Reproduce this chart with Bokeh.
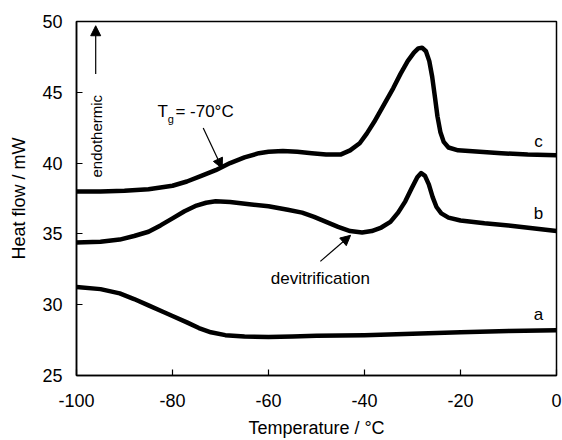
from bokeh.plotting import figure
from bokeh.models import Label, Arrow, NormalHead, FixedTicker
from bokeh.embed import file_html
from bokeh.resources import INLINE

# Curve c
c_x = [-100, -95, -90, -85, -80, -77, -74, -71, -68, -65, -62, -60, -57, -54, -51, -48, -45, -43, -41,
       -39.5, -38, -36, -34, -32.5, -31, -29.7, -28.8, -28, -27.2, -26.5, -25.9, -25.3, -24.8, -24.2,
       -23.5, -22.5, -20.5, -16, -11.5, -6, 0]
c_y = [38.0, 38.0, 38.05, 38.15, 38.4, 38.7, 39.1, 39.5, 40.0, 40.4, 40.7, 40.8, 40.85, 40.8, 40.7,
       40.6, 40.6, 40.9, 41.4, 42.1, 42.9, 44.1, 45.3, 46.3, 47.2, 47.8, 48.1, 48.15, 47.9, 47.2, 46.1,
       44.6, 43.3, 42.2, 41.5, 41.1, 40.9, 40.8, 40.7, 40.6, 40.55]

# Curve b
b_x = [-100, -95, -91, -88, -85, -82.5, -80, -77.5, -75, -73, -71, -68, -64, -60, -56, -53, -50.5,
       -48, -45.5, -43, -40.5, -38.5, -36.5, -34.6, -33, -31.5, -30.2, -29, -28.2, -27.4, -26.6,
       -25.8, -25, -24, -22.5, -20, -15, -10, -5, 0]
b_y = [34.4, 34.45, 34.6, 34.85, 35.15, 35.6, 36.1, 36.6, 37.0, 37.2, 37.3, 37.25, 37.1, 36.95,
       36.7, 36.5, 36.2, 35.85, 35.5, 35.2, 35.1, 35.2, 35.45, 35.85, 36.5, 37.3, 38.2, 39.0, 39.3,
       39.1, 38.5, 37.6, 36.9, 36.45, 36.15, 35.95, 35.75, 35.6, 35.4, 35.2]

# Curve a
a_x = [-100, -95, -91, -88, -85, -82, -80, -77, -74.5, -72, -69, -65, -60, -55, -50, -40, -30, -20, -10, 0]
a_y = [31.25, 31.1, 30.8, 30.4, 29.95, 29.5, 29.2, 28.75, 28.35, 28.05, 27.85, 27.75, 27.72, 27.75,
       27.8, 27.85, 27.95, 28.05, 28.15, 28.2]

x_ticks = [-100, -80, -60, -40, -20, 0]
x_tick_labels = ["-100", "-80", "-60", "-40", "-20", "0"]
y_ticks = [25, 30, 35, 40, 45, 50]

FONT = "Liberation Sans"

p = figure(width=562, height=440, x_range=(-100, 0), y_range=(25, 50),
           output_backend="svg", toolbar_location=None,
           min_border_left=76, min_border_top=21, min_border_right=6, min_border_bottom=64)

p.xgrid.visible = False
p.ygrid.visible = False
p.outline_line_color = "black"
p.outline_line_width = 1.5
p.background_fill_color = "white"
p.border_fill_color = "white"

for ax in (p.xaxis[0], p.yaxis[0]):
    ax.axis_line_color = "black"
    ax.axis_line_width = 1.5
    ax.major_tick_in = 6
    ax.major_tick_out = 0
    ax.major_tick_line_width = 1.2
    ax.minor_tick_line_color = None
    ax.major_label_text_font = FONT
    ax.major_label_text_font_size = "18px"
    ax.major_label_text_color = "black"
    ax.axis_label_text_font = FONT
    ax.axis_label_text_font_size = "18px"
    ax.axis_label_text_font_style = "normal"
    ax.axis_label_text_color = "black"

p.xaxis.ticker = FixedTicker(ticks=x_ticks)
p.xaxis.major_label_overrides = {t: s for t, s in zip(x_ticks, x_tick_labels)}
p.yaxis.ticker = FixedTicker(ticks=y_ticks)
p.xaxis.axis_label = "Temperature / °C"
p.yaxis.axis_label = "Heat flow / mW"
p.xaxis.major_label_standoff = 18
p.yaxis.major_label_standoff = 14
p.xaxis.axis_label_standoff = 8
p.yaxis.axis_label_standoff = 10

for xs, ys in ((a_x, a_y), (b_x, b_y), (c_x, c_y)):
    p.line(xs, ys, line_color="black", line_width=4.5, line_join="round", line_cap="round")

# curve labels
for txt, yy in (("c", 41.5), ("b", 36.46), ("a", 29.3)):
    p.add_layout(Label(x=-3.75, y=yy, text=txt, text_font=FONT, text_font_size="17px",
                       text_align="center", text_baseline="middle", text_color="black"))

# Tg annotation
p.add_layout(Label(x=-83.1, y=43.66, text="T", text_font=FONT, text_font_size="17px",
                   text_align="left", text_baseline="middle", text_color="black"))
p.add_layout(Label(x=-81.0, y=43.1, text="g", text_font=FONT, text_font_size="11px",
                   text_align="left", text_baseline="middle", text_color="black"))
p.add_layout(Label(x=-79.4, y=43.66, text="= -70°C", text_font=FONT, text_font_size="17px",
                   text_align="left", text_baseline="middle", text_color="black"))
p.add_layout(Arrow(x_start=-73.6, y_start=42.48, x_end=-69.65, y_end=39.63,
                   line_width=1.2, line_color="black",
                   end=NormalHead(size=10, fill_color="black", line_color="black")))

# devitrification annotation
p.add_layout(Label(x=-49.2, y=31.83, text="devitrification", text_font=FONT, text_font_size="17px",
                   text_align="center", text_baseline="middle", text_color="black"))
p.add_layout(Arrow(x_start=-49.2, y_start=33.06, x_end=-42.9, y_end=34.9,
                   line_width=1.2, line_color="black",
                   end=NormalHead(size=10, fill_color="black", line_color="black")))

# endothermic annotation
p.add_layout(Label(x=-95.8, y=41.9, text="endothermic", text_font=FONT, text_font_size="15px",
                   text_align="center", text_baseline="middle", angle=1.5708, text_color="black"))
p.add_layout(Arrow(x_start=-96.0, y_start=46.3, x_end=-96.0, y_end=49.7,
                   line_width=1.2, line_color="black",
                   end=NormalHead(size=10, fill_color="black", line_color="black")))

open("out.html", "w").write(file_html(p, INLINE))
